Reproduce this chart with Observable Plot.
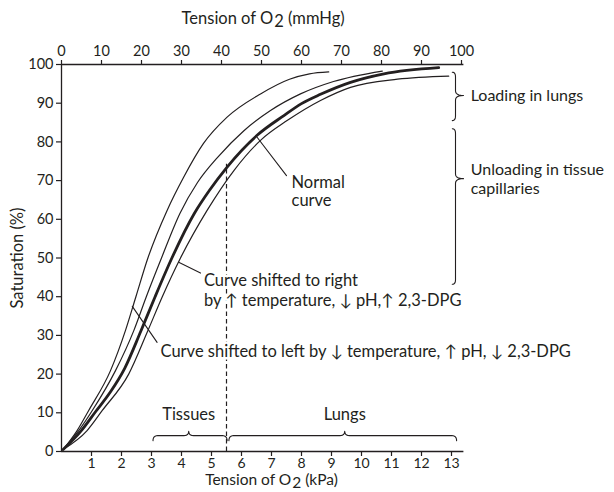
<!DOCTYPE html>
<html><head><meta charset="utf-8">
<script src="https://cdn.jsdelivr.net/npm/d3@7"></script>
<script src="https://cdn.jsdelivr.net/npm/@observablehq/plot@0.6"></script>
<style>
body{margin:0;background:#fff;}
#chart svg{display:block;}
</style></head><body><div id="chart"></div>
<script>
// ---- data (x = tension in mmHg, y = saturation %) ----
const mmHgTicks = [0,10,20,30,40,50,60,70,80,90,100];
const kPaTicks = [1,2,3,4,5,6,7,8,9,10,11,12,13];
const satTicks = [0,10,20,30,40,50,60,70,80,90,100];
const MMHG_PER_KPA = 7.5;

const curveShiftedLeft = [[0.4,0.5],[3.9,5.4],[6.8,10.6],[12.25,20.9],[16,31.3],[18.6,40],[21.6,50],[26.4,62.3],[30.5,70.8],[35.5,79.6],[41.4,86.4],[49.75,92.4],[57,96.2],[62,97.6],[66.8,98.1]];
const curveSecond = [[0.4,0.5],[4.3,5.4],[7.7,10.6],[13.5,20.9],[18.1,31.3],[21.2,40],[25,50],[29.6,61.5],[34,69.5],[39.2,76.2],[45.6,82.9],[52.25,88.1],[59.75,92.4],[68,95.6],[80.2,98.3]];
const curveNormal = [[0.4,0.5],[4.8,5.2],[8.6,10.4],[12.3,15.5],[15.8,21.5],[19.8,31],[23.4,40],[27.6,50],[33.2,61.5],[37,67.5],[41.4,73.5],[48.9,81.7],[55.6,86.8],[60,89.9],[64.75,92.3],[72.25,95.4],[80.6,97.6],[94.3,99.2]];
const curveShiftedRight = [[0.4,0.5],[6.4,5.4],[10.2,10.6],[16.8,20],[21.5,31],[25.2,40],[29.75,50],[36.4,62.3],[43.1,72.6],[49.75,80.4],[56.4,85.5],[64.75,90.7],[72.25,94.1],[84,96.2],[96.8,97.0]];

// dashed boundary tissues/lungs (kPa), and the saturation it reaches
const boundaryKPa = 5.5;
const boundarySat = 74.2;

// bottom braces: [label, start kPa, end kPa, tip kPa]
const bottomBraces = [["Tissues",3.05,5.52,4.24],["Lungs",5.58,13.17,9.44]];
// right braces: [label, top sat, bottom sat, tip sat]
const rightBraces = [["Loading in lungs",98.0,85.5,92.0],["Unloading in tissue\ncapillaries",83.4,43.2,70.5]];

// pointer lines: [[x1,y1],[x2,y2]] in mmHg / %
const pointers = [
  [[48.9,81.2],[56.25,71.3]],
  [[29.3,48.9],[34.75,46.1]],
  [[17.7,37.5],[23.9,28.2]]
];
const notes = [
  {x:57.5, y:67.3, text:"Normal\ncurve"},
  {x:35.6, y:44.4, text:"Curve shifted to right"},
  {x:35.6, y:39.0, text:"by \u2191 temperature, \u2193 pH,\u2191 2,3-DPG"},
  {x:24.75, y:25.9, text:"Curve shifted to left by \u2193 temperature, \u2191 pH, \u2193 2,3-DPG"}
];

// ---- brace geometry helpers (generated in data space) ----
function quad(p0, c, p1, n) {
  const out = [];
  for (let i = 0; i <= n; i++) {
    const t = i / n;
    out.push([(1-t)*(1-t)*p0[0] + 2*(1-t)*t*c[0] + t*t*p1[0],
              (1-t)*(1-t)*p0[1] + 2*(1-t)*t*c[1] + t*t*p1[1]]);
  }
  return out;
}
function hBrace(x1, x2, xm, y0, dEnd, dTip, r) {
  return [
    ...quad([x1, y0 - dEnd], [x1, y0], [x1 + r, y0], 6),
    ...quad([xm - r, y0], [xm, y0], [xm, y0 + dTip], 6),
    ...quad([xm, y0 + dTip], [xm, y0], [xm + r, y0], 6),
    ...quad([x2 - r, y0], [x2, y0], [x2, y0 - dEnd], 6)
  ];
}
function vBrace(yTop, yBot, ym, x0, dEnd, dTip, r) {
  return [
    ...quad([x0 - dEnd, yTop], [x0, yTop], [x0, yTop - r], 6),
    ...quad([x0, ym + r], [x0, ym], [x0 + dTip, ym], 6),
    ...quad([x0 + dTip, ym], [x0, ym], [x0, ym - r], 6),
    ...quad([x0, yBot + r], [x0, yBot], [x0 - dEnd, yBot], 6)
  ];
}

const ink = "#231f20";
const font = "Lato, 'Open Sans', sans-serif";
const fx = d => d[0], fy = d => d[1];
const halo = {stroke: "#fff", strokeWidth: 5, paintOrder: "stroke", strokeLinejoin: "round"};

const marks = [
  // frame lines
  Plot.ruleY([0, 100], {x1: 0, x2: 100.6, stroke: ink, strokeWidth: 1.3}),
  Plot.ruleX([0], {y1: 0, y2: 100, stroke: ink, strokeWidth: 1.3}),
  // axes
  Plot.axisX(mmHgTicks, {anchor: "top", tickSize: 5, tickPadding: 4, fontSize: 14.5, label: null, stroke: ink, fill: ink, strokeWidth: 1.2}),
  Plot.axisX(kPaTicks.map(k => k * MMHG_PER_KPA), {anchor: "bottom", tickSize: 5, tickPadding: 2, fontSize: 14, label: null,
    tickFormat: d => String(Math.round(d / MMHG_PER_KPA)), stroke: ink, fill: ink, strokeWidth: 1.2}),
  Plot.axisY(satTicks, {anchor: "left", tickSize: 5, tickPadding: 3, fontSize: 14.5, label: null, stroke: ink, fill: ink, strokeWidth: 1.2}),
  // dashed boundary
  Plot.ruleX([boundaryKPa * MMHG_PER_KPA], {y1: 0, y2: boundarySat, stroke: ink, strokeWidth: 1.2, strokeDasharray: "4.5,3"}),
  // curves
  Plot.line(curveShiftedLeft, {x: fx, y: fy, curve: "monotone-x", stroke: ink, strokeWidth: 1.2}),
  Plot.line(curveSecond, {x: fx, y: fy, curve: "monotone-x", stroke: ink, strokeWidth: 1.2}),
  Plot.line(curveShiftedRight, {x: fx, y: fy, curve: "monotone-x", stroke: ink, strokeWidth: 1.2}),
  Plot.line(curveNormal, {x: fx, y: fy, curve: "monotone-x", stroke: ink, strokeWidth: 2.8}),
  // pointers
  ...pointers.map(p => Plot.line(p, {x: fx, y: fy, stroke: ink, strokeWidth: 1.1})),
  // bottom braces and labels
  ...bottomBraces.map(b => Plot.line(hBrace(b[1]*MMHG_PER_KPA, b[2]*MMHG_PER_KPA, b[3]*MMHG_PER_KPA, 4.1, 1.3, 1.15, 1.2), {x: fx, y: fy, stroke: ink, strokeWidth: 1.1})),
  Plot.text(bottomBraces, {x: b => b[3]*MMHG_PER_KPA, y: 9.6, text: b => b[0], fontSize: 16.5, fill: ink, textAnchor: "middle"}),
  // right braces and labels
  ...rightBraces.map(b => Plot.line(vBrace(b[1], b[2], b[3], 98.5, 0.8, 2.0, 1.2), {x: fx, y: fy, stroke: ink, strokeWidth: 1.1})),
  Plot.text(rightBraces, {x: 102.3, y: b => b[3], text: b => b[0], fontSize: 16, lineHeight: 1.15, fill: ink, textAnchor: "start"}),
  // notes (white halo hides the dashed line behind them, as in the original)
  Plot.text(notes, {x: "x", y: "y", text: "text", fontSize: 16.5, lineHeight: 1.12, fill: ink, textAnchor: "start", ...halo}),
  // axis titles
  Plot.text(["Tension of O\u2082 (mmHg)"], {x: 50.4, y: 100, dy: -46, text: d => d, fontSize: 16.5, fill: ink, textAnchor: "middle"}),
  Plot.text(["Tension of O\u2082 (kPa)"], {x: 52.5, y: 0, dy: 28.5, text: d => d, fontSize: 15.5, fill: ink, textAnchor: "middle"}),
  Plot.text(["Saturation (%)"], {x: 0, y: 50, dx: -44, rotate: -90, text: d => d, fontSize: 16.5, fill: ink, textAnchor: "middle"})
];

const chart = Plot.plot({
  width: 614, height: 492,
  marginLeft: 61, marginRight: 153, marginTop: 64, marginBottom: 41,
  x: {domain: [0, 100]},
  y: {domain: [0, 100]},
  style: {fontFamily: font, fontSize: "14px", color: ink, background: "#fff", overflow: "visible"},
  marks
});

// render the subscript 2 of O2 as a lowered digit
chart.querySelectorAll("text").forEach(t => {
  if (t.textContent.includes("O\u2082")) {
    const [a, b] = t.textContent.split("\u2082");
    t.textContent = "";
    const ns = "http://www.w3.org/2000/svg";
    const s1 = document.createElementNS(ns, "tspan"); s1.textContent = a + "\u200A";
    const s2 = document.createElementNS(ns, "tspan"); s2.textContent = "2"; s2.setAttribute("dy", "3");
    const s3 = document.createElementNS(ns, "tspan"); s3.textContent = b; s3.setAttribute("dy", "-3");
    t.append(s1, s2, s3);
  }
});
document.getElementById("chart").append(chart);
</script>
</body></html>
